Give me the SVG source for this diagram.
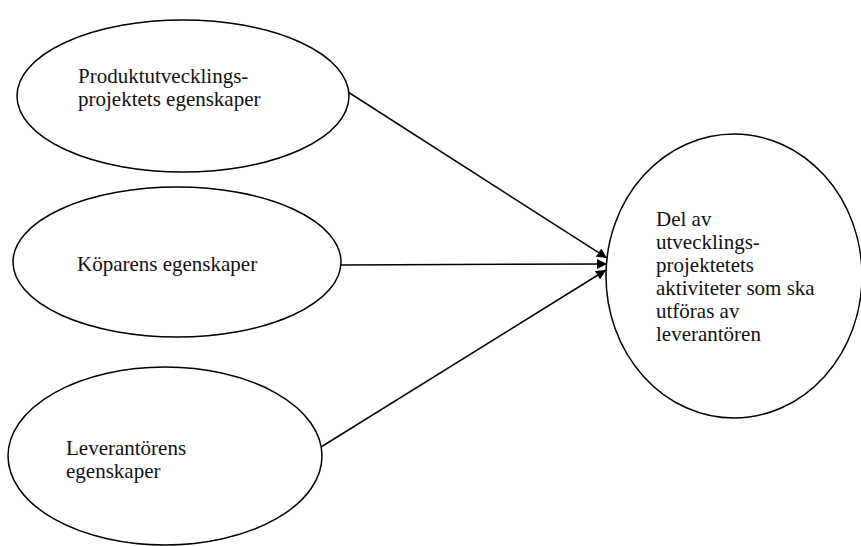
<svg xmlns="http://www.w3.org/2000/svg" width="861" height="546" viewBox="0 0 861 546">
  <defs>
    <marker id="arrow" viewBox="0 0 10 10" refX="10" refY="5" markerWidth="13" markerHeight="10" markerUnits="userSpaceOnUse" orient="auto">
      <path d="M0,0 L10,5 L0,10 Z" fill="#000"/>
    </marker>
    <style>
      .node ellipse { fill: #fff; stroke: #000; stroke-width: 1.5; }
      .node text { font-family: "Liberation Serif", "Times New Roman", serif; font-size: 21px; fill: #111; }
      .edge { stroke: #000; stroke-width: 1.5; fill: none; marker-end: url(#arrow); }
    </style>
  </defs>
  <rect width="861" height="546" fill="#fff"/>

  <g id="connectors">
    <line class="edge" x1="348" y1="92" x2="607" y2="258"/>
    <line class="edge" x1="340" y1="265" x2="607" y2="264"/>
    <line class="edge" x1="321" y1="447" x2="606" y2="270"/>
  </g>

  <g id="node-produkt" class="node">
    <ellipse cx="183" cy="96" rx="166" ry="76"/>
    <text x="78" y="83">Produktutvecklings-</text>
    <text x="78" y="106">projektets egenskaper</text>
  </g>

  <g id="node-kopare" class="node">
    <ellipse cx="177" cy="262" rx="164" ry="75"/>
    <text x="77" y="271">Köparens egenskaper</text>
  </g>

  <g id="node-leverantor" class="node">
    <ellipse cx="165" cy="456" rx="157" ry="89"/>
    <text x="66" y="455">Leverantörens</text>
    <text x="66" y="478">egenskaper</text>
  </g>

  <g id="node-del" class="node">
    <ellipse cx="734" cy="276" rx="128" ry="142"/>
    <text x="656" y="226">Del av</text>
    <text x="656" y="249">utvecklings-</text>
    <text x="656" y="272">projektetets</text>
    <text x="656" y="295">aktiviteter som ska</text>
    <text x="656" y="318">utföras av</text>
    <text x="656" y="341">leverantören</text>
  </g>
</svg>
